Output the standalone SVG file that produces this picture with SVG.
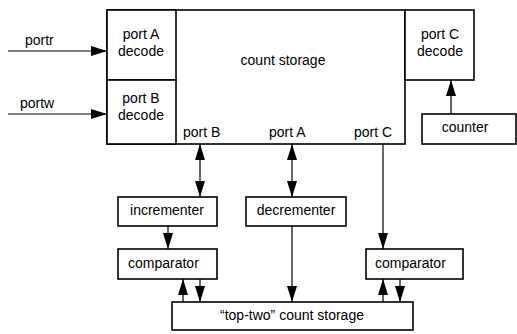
<svg xmlns="http://www.w3.org/2000/svg" width="517" height="334" viewBox="0 0 517 334">
<style>
.box{fill:#fff;stroke:#000;stroke-width:1.6}
.c{fill:none;stroke:#000;stroke-width:1.2}
text{font-family:"Liberation Sans",Arial,sans-serif;font-size:14px;fill:#000}
.m{text-anchor:middle}
</style>
<defs>
<marker id="ah" markerUnits="userSpaceOnUse" markerWidth="17" markerHeight="11" refX="16" refY="5" orient="auto-start-reverse">
<path d="M0,0 L16,5 L0,10 z" fill="#000"/>
</marker>
</defs>
<rect width="517" height="334" fill="#fff"/>
<g id="count-storage">
<rect class="box" x="107" y="10" width="298" height="134"/>
<text class="m" x="283" y="65">count storage</text>
<text x="183" y="137">port B</text>
<text x="269" y="137">port A</text>
<text x="354" y="137">port C</text>
</g>
<g id="port-a-decode">
<rect class="box" x="107" y="10" width="69" height="70"/>
<text class="m" x="141" y="39">port A</text>
<text class="m" x="141" y="56">decode</text>
</g>
<g id="port-b-decode">
<rect class="box" x="107" y="80" width="69" height="64"/>
<text class="m" x="141" y="103">port B</text>
<text class="m" x="141" y="120">decode</text>
</g>
<g id="port-c-decode">
<rect class="box" x="405" y="10" width="69" height="70"/>
<text class="m" x="440" y="39">port C</text>
<text class="m" x="440" y="56">decode</text>
</g>
<g id="counter">
<rect class="box" x="422" y="114" width="94" height="30"/>
<text class="m" x="465" y="132">counter</text>
</g>
<g id="incrementer">
<rect class="box" x="118" y="197" width="99" height="29"/>
<text class="m" x="167" y="215">incrementer</text>
</g>
<g id="decrementer">
<rect class="box" x="246" y="197" width="100" height="29"/>
<text class="m" x="296" y="215">decrementer</text>
</g>
<g id="comparator-left">
<rect class="box" x="118" y="249" width="99" height="30"/>
<text x="128" y="268">comparator</text>
</g>
<g id="comparator-right">
<rect class="box" x="366" y="249" width="97" height="30"/>
<text x="375" y="268">comparator</text>
</g>
<g id="top-two">
<rect class="box" x="172" y="302" width="241" height="28"/>
<text class="m" x="292" y="320">“top-two” count storage</text>
</g>
<g id="connectors">
<text x="25" y="45">portr</text>
<text x="20" y="108">portw</text>
<path class="c" d="M8,51 H107" marker-end="url(#ah)"/>
<path class="c" d="M8,114 H107" marker-end="url(#ah)"/>
<path class="c" d="M451,114 V80" marker-end="url(#ah)"/>
<path class="c" d="M200,144 V197" marker-start="url(#ah)" marker-end="url(#ah)"/>
<path class="c" d="M292,144 V197" marker-start="url(#ah)" marker-end="url(#ah)"/>
<path class="c" d="M383,144 V249" marker-end="url(#ah)"/>
<path class="c" d="M168,226 V249" marker-end="url(#ah)"/>
<path class="c" d="M292,226 V302" marker-end="url(#ah)"/>
<path class="c" d="M183,302 V279" marker-end="url(#ah)"/>
<path class="c" d="M200,279 V302" marker-end="url(#ah)"/>
<path class="c" d="M383,302 V279" marker-end="url(#ah)"/>
<path class="c" d="M400,279 V302" marker-end="url(#ah)"/>
</g>
</svg>
